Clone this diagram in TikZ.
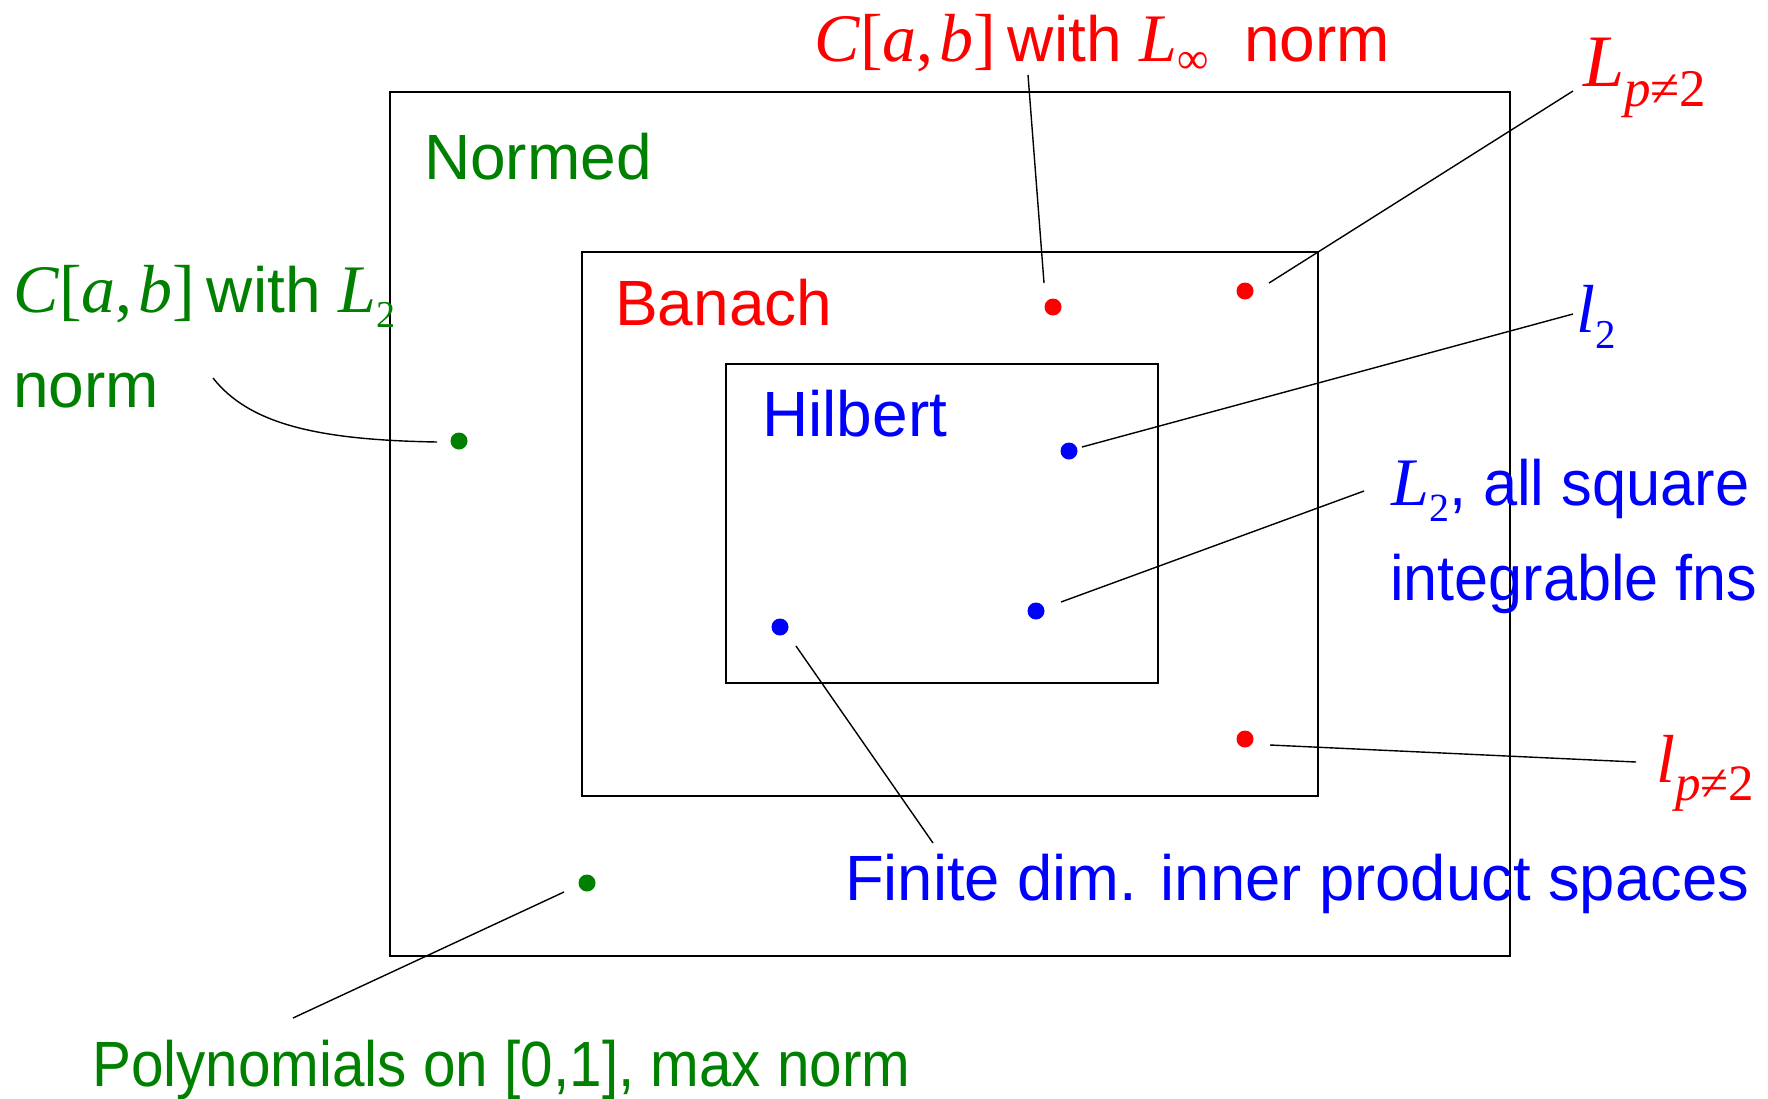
\documentclass[tikz,border=0pt]{standalone}
\usepackage{fontspec}
\setmainfont{Liberation Sans}
\newfontfamily\tms{Liberation Serif}
\definecolor{grn}{RGB}{0,128,0}
\definecolor{rd}{RGB}{255,0,0}
\definecolor{bl}{RGB}{0,0,255}
\newcommand{\mathsz}{\fontsize{68}{80}\selectfont}
\newcommand{\mv}[1]{{\mathsz\tms\itshape #1}}
\newcommand{\subs}[3]{\raisebox{-#2pt}{\fontsize{#1}{#1}\selectfont\tms #3}}
\newcommand{\Cab}{{\mathsz\tms\textit{C}[\textit{a},\kern0.08em\textit{b}]}}
\newcommand{\narrow}[2]{{\addfontfeature{FakeStretch=#1}#2}}
\begin{document}
\begin{tikzpicture}[x=1pt,y=-1pt,
  lab/.style={anchor=base west, inner sep=0pt, font=\fontsize{64}{77}\selectfont},
  box/.style={draw=black, line width=2pt, anchor=north west, inner sep=0pt},
  dot/.style={circle, fill=#1, inner sep=0pt, minimum size=17pt},
  conn/.style={draw=black, line width=1.4pt}]
\useasboundingbox (0,0) rectangle (1768,1098);
\fill[white] (0,0) rectangle (1768,1098);

% boxes
\node[box, minimum width=1120pt, minimum height=864pt] (normed) at (389,91) {};
\node[box, minimum width=736pt, minimum height=544pt] (banach) at (581,251) {};
\node[box, minimum width=432pt, minimum height=319pt] (hilbert) at (725,363) {};

% box titles
\node[lab, text=grn] (tNormed) at (424,179) {Normed};
\node[lab, text=rd] (tBanach) at (615,325) {Banach};
\node[lab, text=bl] (tHilbert) at (762,436) {Hilbert};

% dots
\node[dot=rd] (dInf) at (1053,307) {};
\node[dot=rd] (dLp) at (1245,291) {};
\node[dot=bl] (dl2) at (1069,451) {};
\node[dot=bl] (dL2) at (1036,611) {};
\node[dot=bl] (dFin) at (780,627) {};
\node[dot=rd] (dlp) at (1245,739) {};
\node[dot=grn] (dCL2) at (459,441) {};
\node[dot=grn] (dPoly) at (587,883) {};

% labels
\node[lab, text=rd] (tInf) at (814,61) {\Cab\kern12pt with \mv{L}\subs{44}{12}{∞}\ \ norm};
\node[lab, text=rd] (tLp) at (1583,86) {{\fontsize{74}{80}\selectfont\tms\itshape L}\subs{53}{20}{\textit{p}≠2}};
\node[lab, text=bl] (tl2) at (1576,332) {\mv{l}\subs{41}{16}{2}};
\node[lab, text=bl] (tL2a) at (1391,505) {\mv{L}\subs{40}{16}{2}\narrow{0.96}{, all square}};
\node[lab, text=bl] (tL2b) at (1390,600) {\narrow{0.955}{integrable fns}};
\node[lab, text=rd] (tlp) at (1656,782) {\mv{l}\subs{51}{18}{\textit{p}≠2}};
\node[lab, text=bl] (tFin) at (845,900) {\narrow{0.99}{Finite dim. inner product spaces}};
\node[lab, text=grn] (tPoly) at (92,1086) {\narrow{0.913}{Polynomials on [0,1], max norm}};
\node[lab, text=grn] (tCL2a) at (13,312) {\Cab\kern12pt with \mv{L}\subs{38}{15}{2}};
\node[lab, text=grn] (tCL2b) at (13,407) {norm};

% connector end points
\coordinate (aInf) at (1028,75);   \coordinate (bInf) at (1044,283);
\coordinate (aLp) at (1573,91);    \coordinate (bLp) at (1269,283);
\coordinate (al2) at (1573,314);   \coordinate (bl2) at (1082,447);
\coordinate (aL2) at (1364,491);   \coordinate (bL2) at (1061,602);
\coordinate (aFin) at (933,843);   \coordinate (bFin) at (796,646);
\coordinate (alp) at (1636,762);   \coordinate (blp) at (1270,745);
\coordinate (aCL2) at (213,378);   \coordinate (bCL2) at (437,442);
\coordinate (aPoly) at (293,1018); \coordinate (bPoly) at (564,892);

\draw[conn] (aInf) -- (bInf);
\draw[conn] (aLp) -- (bLp);
\draw[conn] (al2) -- (bl2);
\draw[conn] (aL2) -- (bL2);
\draw[conn] (aFin) -- (bFin);
\draw[conn] (alp) -- (blp);
\draw[conn] (aCL2) .. controls (250,425) and (320,440) .. (bCL2);
\draw[conn] (aPoly) -- (bPoly);
\end{tikzpicture}
\end{document}
